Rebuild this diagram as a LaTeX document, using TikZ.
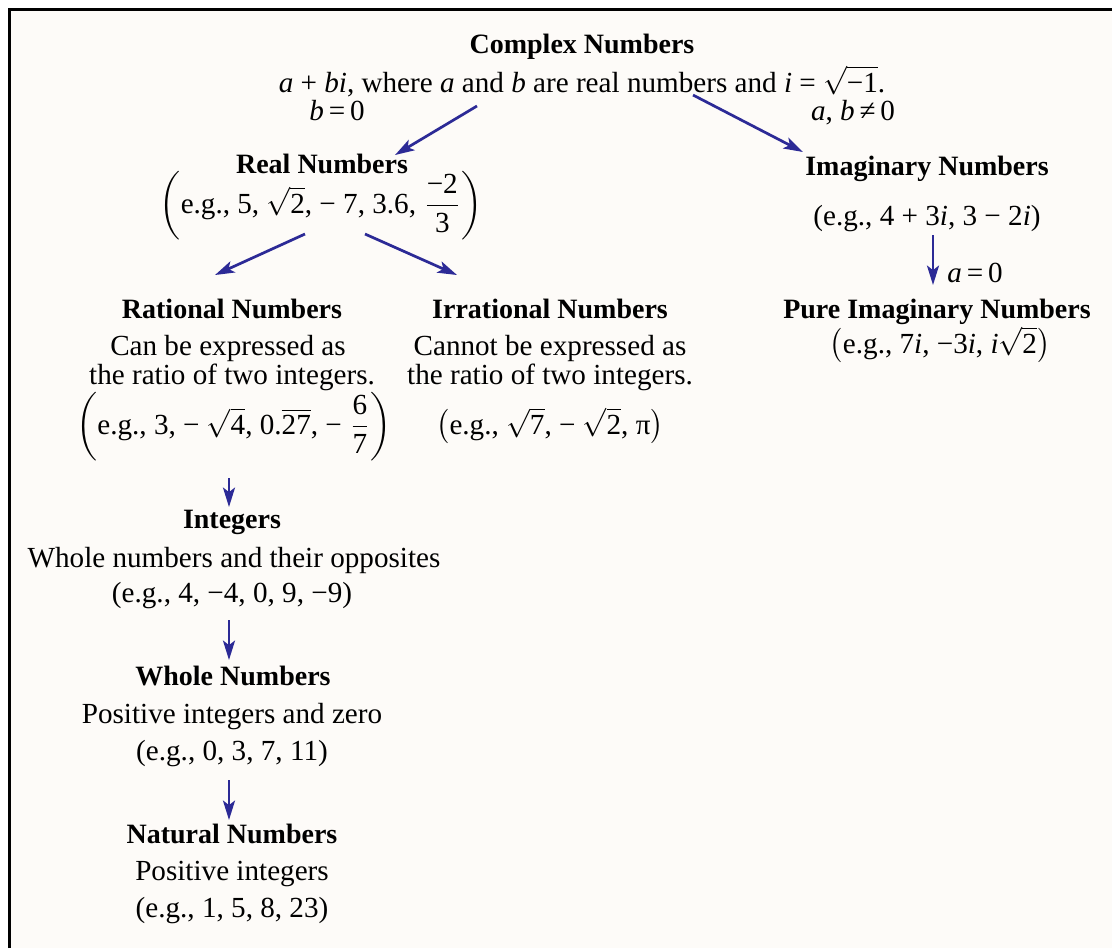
\documentclass[tikz,border=0pt]{standalone}
\usepackage{amsmath}
\usepackage{fontspec}
\setmainfont{Liberation Serif}
\usetikzlibrary{arrows.meta,calc}
\definecolor{arrowblue}{RGB}{44,42,150}
\definecolor{paper}{RGB}{253,251,248}
\begin{document}
\begin{tikzpicture}[x=0.35pt,y=-0.35pt,
  txt/.style={anchor=base,inner sep=0pt,font=\fontsize{10.2pt}{12pt}\selectfont},
  ttl/.style={anchor=base,inner sep=0pt,font=\fontsize{9.8pt}{12pt}\selectfont\bfseries},
  arr/.style={draw=arrowblue,line width=0.95pt,-{Stealth[length=6.8pt,width=4.2pt,inset=1.6pt]}}]
\fill[white] (0,0) rectangle (1112,948);
\useasboundingbox (0,0) rectangle (1112,948);
\fill[paper] (9,9) rectangle (1112,948);
\draw[line width=1.05pt] (9,948) -- (9,9) -- (1112,9);

% top
\node[ttl] (cx) at (582,53) {Complex Numbers};
\node[txt] (cdesc) at (582,92) {\textit{a} + \textit{bi}, where \textit{a} and \textit{b} are real numbers and \textit{i} = $\sqrt{\mbox{−1}}$.};
\node[txt] (lb0) at (337,120) {\textit{b}\,=\,0};
\node[txt] (lab) at (853,120) {\textit{a}, \textit{b}\,≠\,0};

% real
\node[ttl] (real) at (322,173) {Real Numbers};
\node[txt] (reg) at (321,213) {$\left(\mbox{e.g., 5, }\sqrt{\mbox{2}}\mbox{, − 7, 3.6, }\dfrac{\mbox{−2}}{\mbox{3}}\right)$};

% imaginary
\node[ttl] (imag) at (927,175) {Imaginary Numbers};
\node[txt] (ieg) at (927,225) {(e.g., 4 + 3\textit{i}, 3 − 2\textit{i})};
\node[txt] (la0) at (975,282) {\textit{a}\,=\,0};
\node[ttl] (pure) at (937,318) {Pure Imaginary Numbers};
\node[txt] (peg) at (940,353) {$\bigl(\mbox{e.g., 7\textit{i}, −3\textit{i}, \textit{i}}\sqrt{\mbox{2}}\bigr)$};

% rational
\node[ttl] (rat) at (232,318) {Rational Numbers};
\node[txt] (rat1) at (228,355) {Can be expressed as};
\node[txt] (rat2) at (232,384) {the ratio of two integers.};
\node[txt] (reg2) at (234,434) {$\left(\mbox{e.g., 3, − }\sqrt{\mbox{4}}\mbox{, 0.}\overline{\mbox{27}}\mbox{, − }\dfrac{\mbox{6}}{\mbox{7}}\right)$};

% irrational
\node[ttl] (irr) at (550,318) {Irrational Numbers};
\node[txt] (irr1) at (550,355) {Cannot be expressed as};
\node[txt] (irr2) at (550,384) {the ratio of two integers.};
\node[txt] (ieg2) at (550,434) {$\bigl(\mbox{e.g., }\sqrt{\mbox{7}}\mbox{, − }\sqrt{\mbox{2}}\mbox{, π}\bigr)$};

% integers
\node[ttl] (int) at (232,528) {Integers};
\node[txt] (int1) at (234,567) {Whole numbers and their opposites};
\node[txt] (int2) at (232,602) {(e.g., 4, −4, 0, 9, −9)};

% whole
\node[ttl] (whole) at (233,685) {Whole Numbers};
\node[txt] (whole1) at (232,723) {Positive integers and zero};
\node[txt] (whole2) at (232,760) {(e.g., 0, 3, 7, 11)};

% natural
\node[ttl] (nat) at (232,843) {Natural Numbers};
\node[txt] (nat1) at (232,880) {Positive integers};
\node[txt] (nat2) at (232,917) {(e.g., 1, 5, 8, 23)};

% arrows
\draw[arr] ($(cdesc.base)+(-105,14)$) -- ($(real.base)+(73,-18)$);
\draw[arr] ($(cdesc.base)+(111,3)$) -- ($(imag.base)+(-124,-23)$);
\draw[arr] ($(reg.base)+(-16,21)$) -- ($(rat.base)+(-17,-43)$);
\draw[arr] ($(reg.base)+(44,21)$) -- ($(irr.base)+(-93,-43)$);
\draw[arr] ($(ieg.base)+(6,10)$) -- ($(pure.base)+(-4,-33)$);
\draw[arr] ($(reg2.base)+(-5,44)$) -- ($(int.base)+(-3,-21)$);
\draw[arr] ($(int2.base)+(-3,18)$) -- ($(whole.base)+(-4,-25)$);
\draw[arr] ($(whole2.base)+(-3,20)$) -- ($(nat.base)+(-3,-23)$);
\end{tikzpicture}
\end{document}
